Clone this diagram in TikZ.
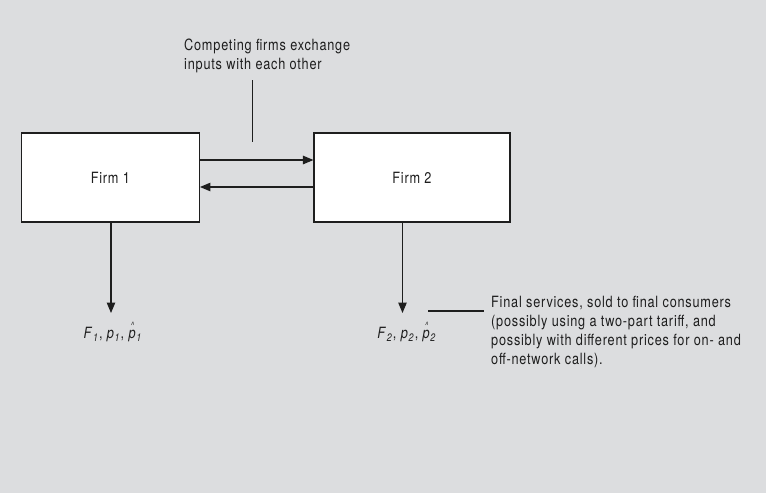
\documentclass[tikz,border=0pt]{standalone}
\usepackage{fontspec}
\setmainfont{TeX Gyre Heros}[FakeStretch=0.82,LetterSpace=5]
\usetikzlibrary{arrows.meta}
\definecolor{panel}{HTML}{DCDDDF}
\definecolor{ink}{HTML}{1E1E1E}
% italic p with a raised circumflex above it
\newcommand{\phat}[1]{\textit{\rlap{\hspace{0.14em}\raisebox{0.62em}{\fontsize{9pt}{9pt}\selectfont\char"5E}}p}\textsubscript{\textit{#1}}}
\begin{document}
\begin{tikzpicture}[x=1pt,y=-1pt,
  every node/.style={font=\fontsize{15.5pt}{19pt}\selectfont, text=ink},
  firm/.style={draw=ink, line width=1.1pt, fill=white, inner sep=0pt},
  arr/.style={draw=ink, line width=1.1pt, -{Triangle[length=10.5pt,width=8.5pt]}},
  link/.style={draw=ink, line width=1pt}]
  \fill[panel] (0,0) rectangle (766,493);
  \useasboundingbox (0,0) rectangle (766,493);

  \node[firm, minimum width=178pt, minimum height=89pt] (f1) at (110.4,177.5) {Firm 1};
  \node[firm, minimum width=196pt, minimum height=89pt] (f2) at (412,177.5) {Firm 2};

  % inputs exchanged between the two firms
  \draw[arr] ([yshift=17.5pt]f1.east) -- ([yshift=17.5pt]f2.west);
  \draw[arr] ([yshift=-9.5pt]f2.west) -- ([yshift=-9.5pt]f1.east);

  \node[anchor=north west, align=left, inner sep=0pt] (comp) at (184,39)
    {Competing firms exchange\\inputs with each other};
  \coordinate (c1) at (252.6,80);
  \coordinate (c2) at (252.6,142);
  \draw[link] (c1) -- (c2);

  % final services sold by each firm
  \coordinate (t1) at (111,313);
  \coordinate (t2) at (402.5,313);
  \draw[arr] (f1.south -| t1) -- (t1);
  \draw[arr] (f2.south -| t2) -- (t2);

  \node[inner sep=0pt] (l1) at (113,332)
    {\textit{F}\textsubscript{\textit{1}}, \textit{p}\textsubscript{\textit{1}}, \phat{1}};
  \node[inner sep=0pt] (l2) at (407,332)
    {\textit{F}\textsubscript{\textit{2}}, \textit{p}\textsubscript{\textit{2}}, \phat{2}};

  \node[anchor=north west, align=left, inner sep=0pt] (note) at (491,296)
    {Final services, sold to final consumers\\
     (possibly using a two-part tariff, and\\
     possibly with different prices for on- and\\
     off-network calls).};
  \coordinate (n1) at (428,311);
  \draw[link, line width=1.4pt] (n1) -- (n1 -| 484,0);
\end{tikzpicture}
\end{document}
